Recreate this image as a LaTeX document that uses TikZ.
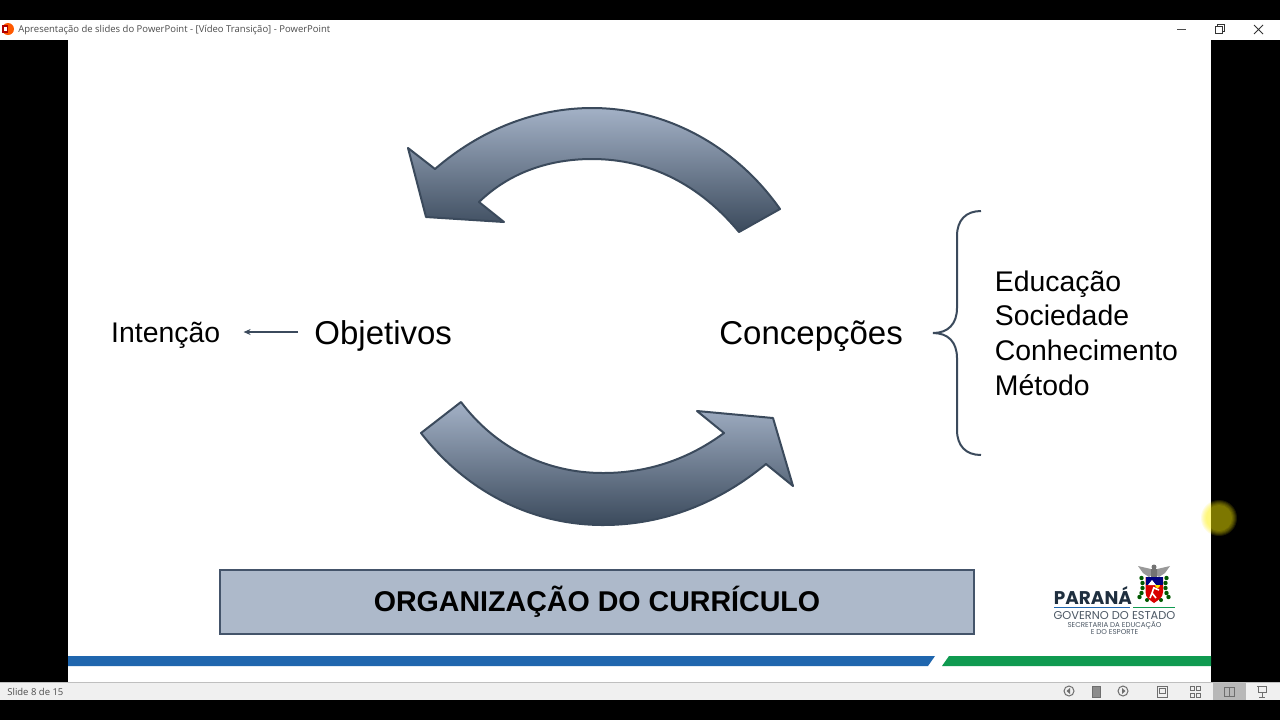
\documentclass[tikz,border=0pt]{standalone}
\usepackage{fontspec}
\usepackage{xcolor}
\setmainfont{Liberation Sans}
\newfontfamily\uifont{Open Sans}
\newfontfamily\logofont{Poppins}
\usetikzlibrary{positioning,arrows.meta}
\definecolor{slate}{HTML}{3B4A5C}
\definecolor{arrowtop}{HTML}{A3B1C6}
\definecolor{arrowmid}{HTML}{6A7E96}
\definecolor{boxfill}{HTML}{ADB9CA}
\definecolor{boxline}{HTML}{44546A}
\definecolor{barblue}{HTML}{1F66AE}
\definecolor{bargreen}{HTML}{0F9A50}
\definecolor{uigray}{HTML}{F0F0F0}
\definecolor{icongray}{HTML}{6E6E6E}
\definecolor{logoink}{HTML}{1F2F3F}
\begin{document}
\begin{tikzpicture}[x=0.5pt, y=-0.5pt,
  txtbig/.style={inner sep=0pt, text height=14pt, text depth=2pt, font=\fontsize{16.5pt}{18pt}\selectfont},
  txtmid/.style={inner sep=0pt, text height=12pt, text depth=2pt, font=\fontsize{14.2pt}{16pt}\selectfont},
  uitxt/.style={inner sep=0pt, anchor=west, text=black!70, font=\uifont\fontsize{4.75pt}{6pt}\selectfont},
  logotxt/.style={inner sep=0pt, text=logoink!80, font=\logofont\fontsize{3.55pt}{4pt}\selectfont},
  bigarrow/.style={draw=slate, line width=1pt, line join=round, top color=arrowtop, middle color=arrowmid, bottom color=slate},
  arr/.style={-{Stealth[length=3.5pt,width=3pt]}, draw=slate, line width=0.8pt},
  icon/.style={draw=icongray, line width=0.5pt, fill=none}]
\useasboundingbox (0,0) rectangle (1280,720);
\fill[black] (0,0) rectangle (1280,720);
\fill[white] (0,20) rectangle (1280,40);
\fill[white] (68,40) rectangle (1211,682);
\fill[uigray] (0,682) rectangle (1280,700);
\draw[black!25, line width=0.5pt] (0,682) -- (1280,682);
\fill[black!28] (1213,683) rectangle (1246,700);

\fill[orange!70!red] (8,29) circle (6);
\fill[red!70!black] (2,25) rectangle (8,33);
\fill[white] (3.5,26.5) rectangle (6.5,31);
\node[uitxt] (title) at (18,30) {Apresentação de slides do PowerPoint - [Vídeo Transição] - PowerPoint};
\node[uitxt] (count) at (7,691.5) {Slide 8 de 15};
\draw[black!70, line width=0.5pt] (1177,29) -- (1186,29);
\draw[black!80, line width=0.5pt] (1215,26) rectangle (1222,33) (1217,26) -- (1217,24) -- (1224,24) -- (1224,31) -- (1222,31);
\draw[black!80, line width=0.5pt] (1254,25) -- (1263,34) (1263,25) -- (1254,34);

\shadedraw[bigarrow] (780,209) .. controls (735,145) and (665,108) .. (592,108)
  .. controls (535,108) and (480,130) .. (435,169) -- (408,148) -- (426,217) -- (504,222) -- (479,202)
  .. controls (510,172) and (550,159) .. (592,159) .. controls (650,159) and (700,185) .. (739,232) -- cycle;
\shadedraw[bigarrow] (461,402) -- (421,433) .. controls (465,490) and (530,525) .. (603,525)
  .. controls (665,525) and (720,502) .. (766,464) -- (793,486) -- (773,418) -- (697,411) -- (724,433)
  .. controls (690,458) and (650,473) .. (603,473) .. controls (545,473) and (495,447) .. (461,402) -- cycle;

\node[txtbig, anchor=west] (obj) at (314,332) {Objetivos};
\node[txtmid, left=46.7pt of obj] (int) {Intenção};
\node[txtbig, anchor=west] (con) at (719,332) {Concepções};
\node[txtmid, anchor=west] (edu) at (994.5,281) {Educação};
\node[txtmid, below=3pt of edu.south west, anchor=north west] (soc) {Sociedade};
\node[txtmid, below=3pt of soc.south west, anchor=north west] (know) {Conhecimento};
\node[txtmid, below=3pt of know.south west, anchor=north west] (met) {Método};
\draw[arr, shorten <=8pt, shorten >=11.5pt] (obj.west) -- (int.east);

\draw[slate, line width=1pt] (981,211) .. controls (966,211) and (957,220) .. (957,236) -- (957,308)
  .. controls (957,324) and (948,333) .. (933,333) .. controls (948,333) and (957,342) .. (957,358)
  -- (957,430) .. controls (957,446) and (966,455) .. (981,455);

\node[draw=boxline, fill=boxfill, line width=1pt, minimum width=377pt, minimum height=32pt, inner sep=0pt,
  font=\bfseries\fontsize{14.3pt}{16pt}\selectfont, text=black] (org) at (597,602) {ORGANIZAÇÃO DO CURRÍCULO};

\fill[barblue] (68,656) -- (935,656) -- (928,666) -- (68,666) -- cycle;
\fill[bargreen] (949,656) -- (1211,656) -- (1211,666) -- (942,666) -- cycle;

\node[logotxt, anchor=base west, text=logoink, font=\logofont\bfseries\fontsize{9.2pt}{11pt}\selectfont] (par) at (1053.5,604) {PARANÁ};
\fill[barblue] (1054,606.5) rectangle (1130,608);
\fill[bargreen] (1133,606.5) rectangle (1175,608);
\node[logotxt, anchor=center, font=\logofont\fontsize{5.7pt}{6pt}\selectfont] (gov) at (1114.5,615) {GOVERNO DO ESTADO};
\node[logotxt] (sec) at (1114.5,625.5) {SECRETARIA DA EDUCAÇÃO};
\node[logotxt] (esp) at (1114.5,632.5) {E DO ESPORTE};
\fill[black!40] (1138,566) -- (1151,569) -- (1153,574) -- (1149,577) -- (1143,573) -- cycle;
\fill[black!40] (1170,566) -- (1157,569) -- (1155,574) -- (1159,577) -- (1165,573) -- cycle;
\fill[black!55] (1154,567) circle (2.5) (1151,569) rectangle (1157,577);
\foreach \yy/\dx in {578/0,583/-1,588/-1,593/0,597/2} {
  \fill[green!35!black] (1141.5-\dx,\yy) circle (2.2) (1166.5+\dx,\yy) circle (2.2);
}
\fill[green!35!black] (1147,600) circle (2) (1161,600) circle (2);
\fill[red!85!black] (1145.5,577) -- (1163,577) -- (1163,592) .. controls (1163,598) and (1158,600) .. (1154,603) .. controls (1150,600) and (1145.5,598) .. (1145.5,592) -- cycle;
\fill[blue!50!black] (1145.5,577) rectangle (1163,585);
\fill[white] (1148,585) -- (1152,580) -- (1156,585) -- cycle;
\fill[yellow!90!orange] (1160,585) arc[start angle=0, end angle=-180, x radius=2.5, y radius=-3] -- cycle;
\draw[white, line width=0.8pt] (1154,587) -- (1152,593) -- (1150,598) (1152,593) -- (1156,598) (1154,588) -- (1159,590);

\foreach \r in {18,17,16,15,14,13} {\fill[yellow, opacity=0.11] (1219,518) circle (\r);}

\draw[icon] (1069,691) circle (5);
\fill[icongray] (1066.5,691) -- (1070,688) -- (1070,694) -- cycle;
\draw[icon, fill=black!45] (1092,686) rectangle (1100,697);
\draw[icon] (1123,691) circle (5);
\fill[icongray] (1125.5,691) -- (1122,688) -- (1122,694) -- cycle;
\draw[icon] (1157,686) rectangle (1167,697) (1159,688) rectangle (1165,693);
\draw[icon] (1190,686) rectangle (1194,690) (1196,686) rectangle (1200,690) (1190,693) rectangle (1194,697) (1196,693) rectangle (1200,697);
\draw[icon] (1224,687) rectangle (1229,696) (1229,687) rectangle (1234,696);
\draw[icon] (1257,686) -- (1267,686) (1258,686) -- (1258,692) -- (1266,692) -- (1266,686) (1262,692) -- (1262,697) (1259,697) -- (1265,697);
\end{tikzpicture}
\end{document}
